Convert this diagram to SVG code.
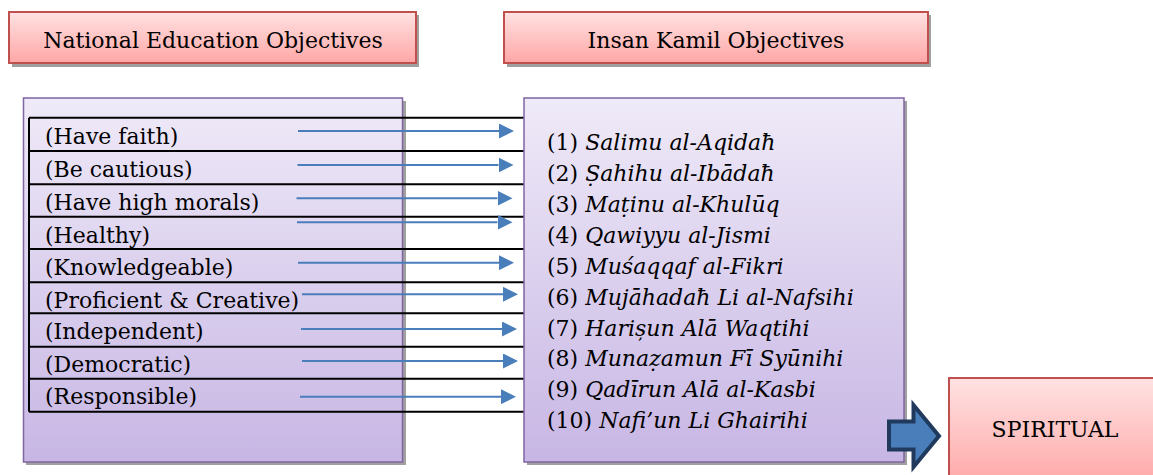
<svg xmlns="http://www.w3.org/2000/svg" width="1153" height="475" viewBox="0 0 1153 475">
<defs>
<linearGradient id="pink" x1="0" y1="0" x2="0" y2="1">
<stop offset="0" stop-color="#ffe2e2"/>
<stop offset="1" stop-color="#ffa6a6"/>
</linearGradient>
<linearGradient id="purple" x1="0" y1="0" x2="0" y2="1">
<stop offset="0" stop-color="#efeaf8"/>
<stop offset="1" stop-color="#c7b6e4"/>
</linearGradient>
<marker id="ah" markerUnits="userSpaceOnUse" markerWidth="15" markerHeight="15" viewBox="0 0 15 15" refX="0" refY="7.5" orient="auto">
<path d="M0,0 L15,7.5 L0,15 Z" fill="#4a7ebb"/>
</marker>
</defs>
<style>
.t{font-family:"DejaVu Serif","Liberation Serif",serif;font-size:22px;fill:#000}
.i{font-style:italic}
.pink{fill:url(#pink);stroke:#c0504d;stroke-width:2}
.purp{fill:url(#purple);stroke:#8064a2;stroke-width:1.5}
.sh{fill:#a0a0a0}
.row{stroke:#000;stroke-width:2;fill:none}
.arr{stroke:#4a7ebb;stroke-width:2;fill:none;marker-end:url(#ah)}
</style>

<g id="title-national">
<rect class="sh" x="12" y="15" width="407" height="52"/>
<rect class="pink" x="9" y="12" width="407" height="51"/>
<text class="t" x="213" y="47.5" text-anchor="middle">National Education Objectives</text>
</g>

<g id="title-insan">
<rect class="sh" x="507" y="15" width="424" height="52"/>
<rect class="pink" x="504" y="12" width="424" height="51"/>
<text class="t" x="716" y="47.5" text-anchor="middle">Insan Kamil Objectives</text>
</g>

<g id="national-list">
<rect class="sh" x="26" y="101" width="380" height="364"/>
<rect class="purp" x="23.5" y="98" width="379" height="364"/>
<path class="row" d="M29,117.7 H524 M29,151 H524 M29,184.3 H524 M29,216.7 H524 M29,249 H524 M29,282.3 H524 M29,313.3 H524 M29,346.7 H524 M29,378.7 H524 M29,411.7 H524 M29,117.7 V411.7"/>
<text class="t" x="45" y="144">(Have faith)</text>
<text class="t" x="45" y="177">(Be cautious)</text>
<text class="t" x="45" y="210">(Have high morals)</text>
<text class="t" x="45" y="243">(Healthy)</text>
<text class="t" x="45" y="275">(Knowledgeable)</text>
<text class="t" x="45" y="308">(Proficient &amp; Creative)</text>
<text class="t" x="45" y="339">(Independent)</text>
<text class="t" x="45" y="372">(Democratic)</text>
<text class="t" x="45" y="404">(Responsible)</text>
</g>

<g id="insan-list">
<rect class="sh" x="527" y="101" width="380" height="364"/>
<rect class="purp" x="524" y="98" width="380" height="364"/>
<text class="t" x="547" y="150">(1) <tspan class="i">Salimu al-Aqidaħ</tspan></text>
<text class="t" x="547" y="181">(2) <tspan class="i">Ṣahihu al-Ibādaħ</tspan></text>
<text class="t" x="547" y="212">(3) <tspan class="i">Maṭinu al-Khulūq</tspan></text>
<text class="t" x="547" y="243">(4) <tspan class="i">Qawiyyu al-Jismi</tspan></text>
<text class="t" x="547" y="274">(5) <tspan class="i">Muśaqqaf al-Fikri</tspan></text>
<text class="t" x="547" y="305">(6) <tspan class="i">Mujāhadaħ Li al-Nafsihi</tspan></text>
<text class="t" x="547" y="336">(7) <tspan class="i">Harișun Alā Waqtihi</tspan></text>
<text class="t" x="547" y="366">(8) <tspan class="i">Munaẓamun Fī Syūnihi</tspan></text>
<text class="t" x="547" y="397">(9) <tspan class="i">Qadīrun Alā al-Kasbi</tspan></text>
<text class="t" x="547" y="428">(10) <tspan class="i">Nafi’un Li Ghairihi</tspan></text>
</g>

<g id="spiritual">
<rect class="pink" x="949" y="378" width="215" height="110"/>
<text class="t" x="1055" y="437" text-anchor="middle">SPIRITUAL</text>
</g>

<g id="connectors">
<path class="arr" d="M298,131 H499"/>
<path class="arr" d="M297.5,165 H498.5"/>
<path class="arr" d="M296.5,198.3 H497.5"/>
<path class="arr" d="M297,222.3 H497.5"/>
<path class="arr" d="M298,262.7 H499"/>
<path class="arr" d="M302,294.3 H503"/>
<path class="arr" d="M301,329 H502"/>
<path class="arr" d="M302,361 H503"/>
<path class="arr" d="M300,396.7 H501"/>
<polygon points="889,421.5 913.5,421.5 913.5,405 939,436 913.5,467 913.5,449.5 889,449.5" fill="#4a7ebb" stroke="#203a5e" stroke-width="4" stroke-linejoin="miter"/>
</g>
</svg>
